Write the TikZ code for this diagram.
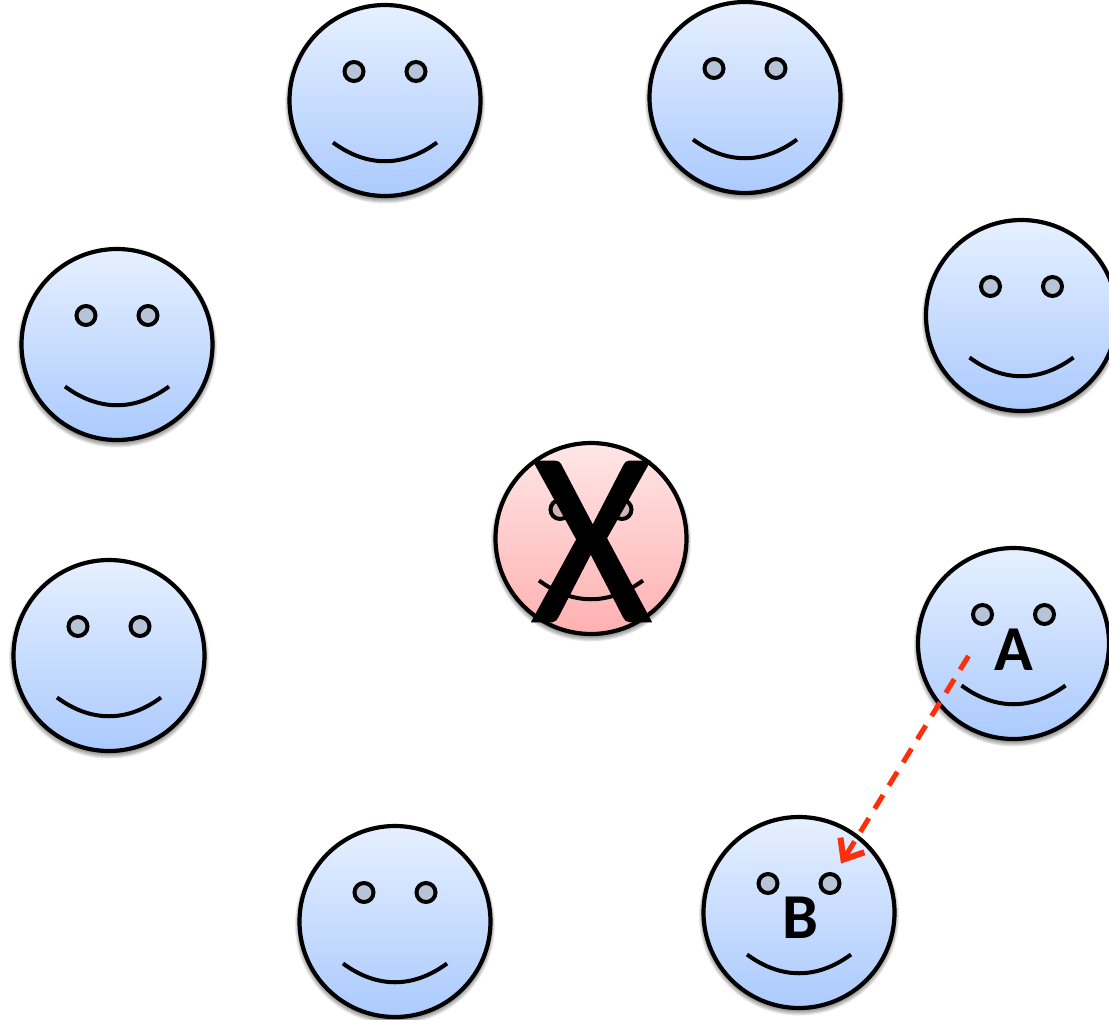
\documentclass[tikz,border=0pt]{standalone}
\usepackage{fontspec}
\setmainfont{Carlito}
\newfontfamily\crossfont[FakeBold=1.0]{Carlito}
\usetikzlibrary{arrows.meta,calc}
\definecolor{bluetop}{HTML}{E6F0FF}
\definecolor{bluebot}{HTML}{ABCAFE}
\definecolor{redtop}{HTML}{FFE6E6}
\definecolor{redbot}{HTML}{FFB0B0}
\definecolor{blueeye}{HTML}{B7C4D8}
\definecolor{redeye}{HTML}{D3B5B5}
\definecolor{arrowred}{HTML}{FF2E0A}
\tikzset{
  x=1pt,y=-1pt,
  facebase/.style={circle,draw=black,line width=4.2pt,minimum size=191pt,inner sep=0pt,outer sep=0pt,shading angle=0},
  eyebase/.style={circle,draw=black,line width=4pt,minimum size=19pt,inner sep=0pt,outer sep=0pt},
  mouthline/.style={draw=black,line width=4pt},
  softshadow/.style={fill=black,opacity=0.085,draw=none},
  bigletter/.style={font=\bfseries\fontsize{64}{64}\selectfont,inner sep=0pt,anchor=base,text=black},
  crossletter/.style={font=\crossfont\fontsize{248}{248}\selectfont,inner sep=0pt,anchor=base,text=black},
  dashlink/.style={draw=arrowred,line width=5pt,dash pattern=on 16pt off 11.2pt,
    -{Straight Barb[length=17pt,width=28pt,line width=6pt]}},
}
\newcommand{\smiley}[6]{%
  \foreach \rr in {94,95,96,97,98,99,100} {\fill[softshadow] (#2,#3+3) circle[radius=\rr pt];}
  \node[facebase,top color=#4,bottom color=#5] (#1) at (#2,#3) {};
  \node[eyebase,fill=#6] (#1-le) at (#2-31,#3-29) {};
  \node[eyebase,fill=#6] (#1-re) at (#2+31,#3-29) {};
  \coordinate (#1-ml) at (#2-52,#3+42);
  \coordinate (#1-mr) at (#2+52,#3+42);
  \draw[mouthline] (#1-ml) .. controls ($(#1-ml)+(34,25)$) and ($(#1-mr)+(-34,25)$) .. (#1-mr);
}
\begin{document}
\begin{tikzpicture}
\useasboundingbox (0,0) rectangle (1109,1020);
\clip (0,0) rectangle (1109,1020);
\smiley{ftop1}{385}{100.5}{bluetop}{bluebot}{blueeye}
\smiley{ftop2}{745}{97.5}{bluetop}{bluebot}{blueeye}
\smiley{fright}{1021.5}{315.5}{bluetop}{bluebot}{blueeye}
\smiley{fleft1}{117}{344.5}{bluetop}{bluebot}{blueeye}
\smiley{fleft2}{109}{655.5}{bluetop}{bluebot}{blueeye}
\smiley{fbot}{395}{921.5}{bluetop}{bluebot}{blueeye}
\smiley{fB}{799}{912.5}{bluetop}{bluebot}{blueeye}
\smiley{fA}{1013.5}{643.5}{bluetop}{bluebot}{blueeye}
\smiley{fX}{591}{538.5}{redtop}{redbot}{redeye}
\node[crossletter] (cross) at (591.5,621) {\scalebox{0.93}[1]{X}};
\node[bigletter] (labelA) at (1014,670) {A};
\node[bigletter] (labelB) at (800,938) {B};
\coordinate (linkstart) at ($(fA)+(-45,12.5)$);
\coordinate (linkend) at ($(fB)+(42,-49)$);
\draw[dashlink,draw=black,opacity=0.12,shift={(0,2.5)}] (linkstart) -- (linkend);
\draw[dashlink] (linkstart) -- (linkend);
\end{tikzpicture}
\end{document}
